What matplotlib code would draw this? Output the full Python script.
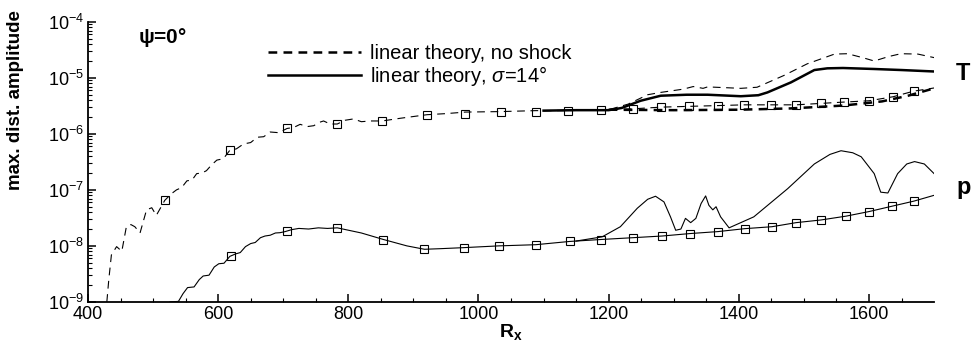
import numpy as np
import matplotlib
matplotlib.use("Agg")
from matplotlib import pyplot as plt

plt.rcParams['font.family'] = ['Liberation Sans', 'DejaVu Sans']
plt.rcParams['mathtext.fontset'] = 'custom'
plt.rcParams['mathtext.rm'] = 'Liberation Sans'
plt.rcParams['mathtext.bf'] = 'Liberation Sans:bold'
plt.rcParams['mathtext.it'] = 'Liberation Sans:italic'

# T amplitude, simulation without shock (thin dashed, squares)
T_ns_x = [429, 432, 436, 444, 452, 459, 466, 472, 480, 490, 498, 505, 518, 528, 536,
          544, 552, 560, 567, 575, 582, 590, 598, 608, 618, 628, 639, 650, 660, 670,
          680, 693, 706, 716, 726, 737, 747, 755, 762, 772, 783, 795, 808, 820, 834,
          852, 880, 921, 950, 980, 1034, 1088, 1138, 1188, 1237, 1280, 1323, 1368,
          1408, 1449, 1488, 1526, 1562, 1600, 1637, 1669, 1700]
T_ns_y = [1.0e-9, 2.5e-9, 6.9e-9, 9.7e-9, 8.0e-9, 2.2e-8, 2.4e-8, 2.2e-8, 1.7e-8, 4.4e-8,
          4.8e-8, 3.5e-8, 6.5e-8, 8.5e-8, 1.0e-7, 1.1e-7, 1.45e-7, 1.5e-7, 1.95e-7,
          2.0e-7, 2.2e-7, 2.8e-7, 3.4e-7, 3.6e-7, 5.1e-7, 5.4e-7, 6.6e-7, 7.0e-7,
          8.7e-7, 8.9e-7, 1.08e-6, 1.05e-6, 1.25e-6, 1.3e-6, 1.48e-6, 1.35e-6, 1.4e-6,
          1.6e-6, 1.7e-6, 1.5e-6, 1.5e-6, 1.75e-6, 1.85e-6, 1.65e-6, 1.7e-6, 1.7e-6,
          1.9e-6, 2.2e-6, 2.3e-6, 2.45e-6, 2.5e-6, 2.6e-6, 2.6e-6, 2.7e-6, 2.8e-6,
          3.0e-6, 3.1e-6, 3.2e-6, 3.3e-6, 3.3e-6, 3.3e-6, 3.5e-6, 3.7e-6, 3.9e-6,
          4.6e-6, 5.8e-6, 6.6e-6]
T_sym_x = [518, 618, 706, 783, 852, 921, 980, 1034, 1088, 1138, 1188, 1237, 1280, 1323,
           1368, 1408, 1449, 1488, 1526, 1562, 1600, 1637, 1669]
T_sym_y = [6.5e-8, 5.1e-7, 1.25e-6, 1.5e-6, 1.7e-6, 2.2e-6, 2.3e-6, 2.45e-6, 2.5e-6,
           2.6e-6, 2.7e-6, 2.8e-6, 3.0e-6, 3.1e-6, 3.2e-6, 3.3e-6, 3.3e-6, 3.3e-6,
           3.5e-6, 3.7e-6, 3.9e-6, 4.6e-6, 5.8e-6]

# T amplitude, simulation with shock (thin dashed)
T_sh_x = [1100, 1200, 1230, 1260, 1280, 1315, 1330, 1345, 1352, 1403, 1428, 1469, 1505,
          1547, 1567, 1590, 1608, 1630, 1649, 1675, 1700]
T_sh_y = [2.6e-6, 2.7e-6, 3.4e-6, 5.0e-6, 5.5e-6, 6.3e-6, 7.0e-6, 6.5e-6, 6.9e-6, 6.5e-6,
          6.8e-6, 1.1e-5, 1.78e-5, 2.66e-5, 2.7e-5, 2.3e-5, 2.0e-5, 2.4e-5, 2.7e-5,
          2.66e-5, 2.3e-5]

# linear theory
lin_ns_x = [1200, 1300, 1400, 1480, 1560, 1620, 1660, 1700]
lin_ns_y = [2.7e-6, 2.65e-6, 2.7e-6, 2.85e-6, 3.2e-6, 3.8e-6, 4.8e-6, 6.5e-6]
lin_sh_x = [1100, 1150, 1200, 1220, 1249, 1280, 1320, 1352, 1403, 1430, 1444, 1480,
            1516, 1536, 1560, 1608, 1650, 1700]
lin_sh_y = [2.6e-6, 2.65e-6, 2.65e-6, 2.9e-6, 3.9e-6, 4.8e-6, 5.0e-6, 5.0e-6, 4.7e-6,
            4.9e-6, 5.5e-6, 8.3e-6, 1.38e-5, 1.48e-5, 1.5e-5, 1.44e-5, 1.38e-5, 1.3e-5]

# p amplitude, without shock (thin solid, squares)
p_ns_x = [526, 539, 546, 553, 563, 571, 577, 586, 594, 601, 609, 618, 627, 634, 642, 650,
          657, 665, 672, 680, 688, 695, 703, 713, 724, 739, 754, 768, 783, 820, 854, 890,
          917, 940, 977, 1031, 1088, 1140, 1188, 1237, 1282, 1325, 1368, 1409, 1451,
          1488, 1526, 1565, 1600, 1635, 1669, 1700]
p_ns_y = [1.0e-9, 1.02e-9, 1.4e-9, 1.8e-9, 1.85e-9, 2.5e-9, 2.9e-9, 3.0e-9, 4.2e-9,
          4.8e-9, 4.9e-9, 6.5e-9, 7.2e-9, 7.6e-9, 9.7e-9, 1.1e-8, 1.15e-8, 1.4e-8, 1.5e-8,
          1.55e-8, 1.7e-8, 1.72e-8, 1.8e-8, 1.95e-8, 2.05e-8, 2.0e-8, 2.1e-8, 2.05e-8,
          2.1e-8, 1.7e-8, 1.3e-8, 1.0e-8, 8.7e-9, 8.9e-9, 9.3e-9, 1.0e-8, 1.05e-8,
          1.2e-8, 1.3e-8, 1.4e-8, 1.5e-8, 1.66e-8, 1.8e-8, 2.03e-8, 2.2e-8, 2.6e-8,
          2.9e-8, 3.4e-8, 4.1e-8, 5.1e-8, 6.3e-8, 8.0e-8]
p_sym_x = [620, 706, 783, 854, 917, 977, 1031, 1088, 1140, 1188, 1237, 1282, 1325, 1368,
           1409, 1451, 1488, 1526, 1565, 1600, 1635, 1669]
p_sym_y = [6.7e-9, 1.83e-8, 2.1e-8, 1.3e-8, 8.7e-9, 9.3e-9, 1.0e-8, 1.05e-8, 1.2e-8,
           1.3e-8, 1.4e-8, 1.5e-8, 1.66e-8, 1.8e-8, 2.03e-8, 2.2e-8, 2.6e-8, 2.9e-8,
           3.4e-8, 4.1e-8, 5.1e-8, 6.3e-8]

# p amplitude, with shock (thin solid)
p_sh_x = [1150, 1190, 1218, 1244, 1260, 1272, 1285, 1295, 1303, 1311, 1318, 1326, 1334,
          1342, 1349, 1354, 1360, 1365, 1372, 1385, 1423, 1475, 1516, 1540, 1557, 1575,
          1588, 1608, 1618, 1629, 1644, 1658, 1670, 1685, 1700]
p_sh_y = [1.22e-8, 1.45e-8, 2.2e-8, 4.7e-8, 6.8e-8, 7.7e-8, 6.1e-8, 3.3e-8, 1.9e-8,
          2.0e-8, 3.1e-8, 2.6e-8, 3.1e-8, 5.7e-8, 7.8e-8, 5.3e-8, 4.4e-8, 5.0e-8, 3.3e-8,
          2.1e-8, 3.3e-8, 1.05e-7, 2.9e-7, 4.3e-7, 5.0e-7, 4.6e-7, 3.9e-7, 1.95e-7,
          9.1e-8, 8.8e-8, 1.95e-7, 2.9e-7, 3.2e-7, 2.9e-7, 1.95e-7]

fig = plt.figure(figsize=(9.72, 3.47), dpi=100)
ax = fig.add_axes([0.0905, 0.13, 0.8705, 0.807])

thin = dict(color='black', lw=0.8)
ax.plot(T_ns_x, T_ns_y, ls=(0, (7, 5)), **thin)
ax.plot(T_sh_x, T_sh_y, ls=(0, (7, 5)), **thin)
ax.plot(p_ns_x, p_ns_y, ls='-', **thin)
ax.plot(p_sh_x, p_sh_y, ls='-', **thin)
ax.plot(T_sym_x, T_sym_y, ls='none', marker='s', ms=6, mfc='none', mec='black', mew=0.8)
ax.plot(p_sym_x, p_sym_y, ls='none', marker='s', ms=6, mfc='none', mec='black', mew=0.8)

l1, = ax.plot(lin_ns_x, lin_ns_y, color='black', lw=1.8, ls=(0, (3.5, 2.5)),
              label='linear theory, no shock')
l2, = ax.plot(lin_sh_x, lin_sh_y, color='black', lw=1.8, ls='-',
              label='linear theory, $\\sigma$=14$\\degree$')

ax.set_yscale('log')
ax.set_xlim(400, 1700)
ax.set_ylim(1e-9, 1e-4)
ax.set_xticks([400, 600, 800, 1000, 1200, 1400, 1600])
ax.set_xticks(np.arange(450, 1700, 50), minor=True)
ax.spines['top'].set_visible(False)
ax.spines['right'].set_visible(False)
ax.spines['left'].set_linewidth(1.3)
ax.spines['bottom'].set_linewidth(1.3)
ax.tick_params(which='major', direction='in', length=6, width=1.1, labelsize=13, pad=3)
ax.tick_params(which='minor', direction='in', length=3, width=0.8)

ax.set_xlabel('$\\mathbf{R_x}$', fontsize=14, labelpad=-1)
ax.set_ylabel('max. dist. amplitude', fontsize=13.5, fontweight='bold')
ax.yaxis.set_label_coords(-0.076, 0.72)

ax.legend(handles=[l1, l2], loc='upper left', bbox_to_anchor=(0.213, 0.92),
          frameon=False, fontsize=14.5, handlelength=4.6, handletextpad=0.45,
          borderpad=0, borderaxespad=0, labelspacing=0.05)

ax.text(0.059, 0.943, '$\\mathbf{\\psi}$=0°', transform=ax.transAxes, fontsize=15,
        fontweight='bold', va='center', ha='left')
ax.text(1745, 1.2e-5, 'T', fontsize=17, fontweight='bold', va='center', ha='center',
        clip_on=False)
ax.text(1745, 1.1e-7, 'p', fontsize=17, fontweight='bold', va='center', ha='center',
        clip_on=False)

fig.savefig('out.png', dpi=100)
